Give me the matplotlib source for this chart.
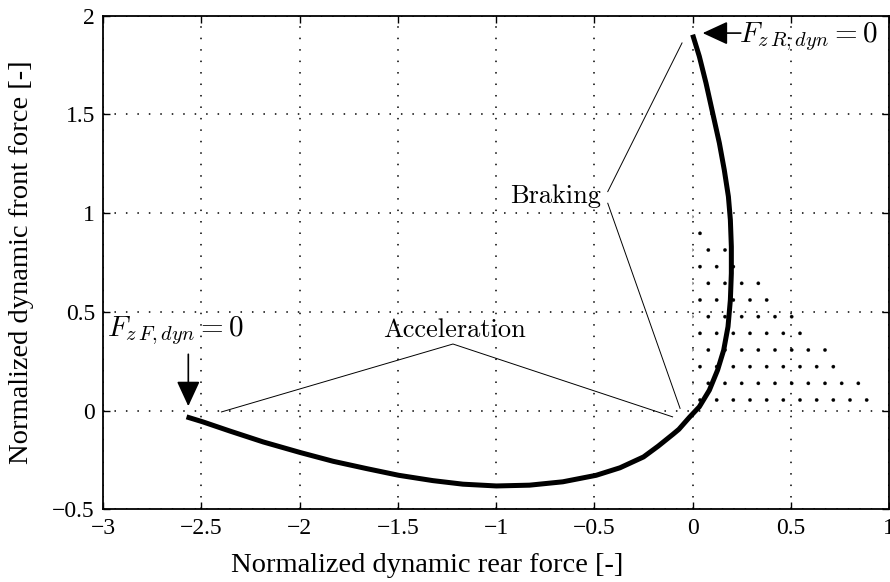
import matplotlib.pyplot as plt
import numpy as np

plt.rcParams['mathtext.fontset'] = 'cm'
plt.rcParams['hatch.linewidth'] = 0.2

# Curve (normalized rear force, normalized front force)
rear_force = [-2.576, -2.494, -2.355, -2.186, -1.996, -1.830, -1.660, -1.496,
              -1.322, -1.169, -0.999, -0.830, -0.661, -0.491, -0.37, -0.25,
              -0.175, -0.1, -0.07, -0.017, 0.034, 0.085, 0.127, 0.158, 0.180,
              0.192, 0.197, 0.197, 0.192, 0.182, 0.161, 0.136, 0.102, 0.068,
              0.034, 0.0]
front_force = [-0.032, -0.057, -0.104, -0.159, -0.213, -0.257, -0.294, -0.328,
               -0.355, -0.373, -0.382, -0.378, -0.361, -0.328, -0.29, -0.235,
               -0.18, -0.12, -0.095, -0.035, 0.019, 0.103, 0.205, 0.306, 0.425,
               0.560, 0.695, 0.830, 0.966, 1.084, 1.219, 1.355, 1.507, 1.659,
               1.794, 1.904]

# dotted triangle region
tri_x = [0, 1, 0]
tri_y = [0, 0, 1]

xticks = [-3, -2.5, -2, -1.5, -1, -0.5, 0, 0.5, 1]
yticks = [-0.5, 0, 0.5, 1, 1.5, 2]

fig = plt.figure(figsize=(8.9, 5.82), dpi=100)
ax = fig.add_axes([0.116, 0.125, 0.883, 0.848])

tick_font = 'Liberation Serif'
grid_style = (0, (1, 6.5))
arrow_style = '-|>,head_length=0.65,head_width=0.3'

ax.fill(tri_x, tri_y, facecolor='none', edgecolor='k', linewidth=0, hatch='.')
ax.plot(rear_force, front_force, color='k', linewidth=3.6, solid_capstyle='butt',
        solid_joinstyle='round', zorder=5)

# annotation leader lines
ax.plot([-0.432, -0.054], [1.109, 1.862], color='k', lw=0.7)
ax.plot([-0.432, -0.064], [1.050, 0.011], color='k', lw=0.7)
ax.plot([-2.398, -1.22, -0.102], [-0.007, 0.337, -0.032], color='k', lw=0.7)

ax.text(-0.698, 1.087, 'Braking', fontfamily='cmr10', fontsize=19, ha='center', va='center')
ax.text(-1.212, 0.405, 'Acceleration', fontfamily='cmr10', fontsize=19, ha='center', va='center')

ax.text(-2.98, 0.405, r'$F_{z\,F,dyn} = 0$', fontsize=21, ha='left', va='center')
ax.annotate('', xy=(-2.567, 0.022), xytext=(-2.567, 0.285),
            arrowprops=dict(arrowstyle=arrow_style, color='k', lw=1.2, mutation_scale=24,
                            shrinkA=0, shrinkB=0))
ax.text(0.235, 1.895, r'$F_{z\,R;dyn} = 0$', fontsize=21, ha='left', va='center')
ax.annotate('', xy=(0.051, 1.912), xytext=(0.245, 1.912),
            arrowprops=dict(arrowstyle=arrow_style, color='k', lw=1.2, mutation_scale=24,
                            shrinkA=0, shrinkB=0))

ax.set_xlim(-3, 1)
ax.set_ylim(-0.5, 2)
ax.set_xticks(xticks)
ax.set_yticks(yticks)
ax.set_xticklabels(['\u22123', '\u22122.5', '\u22122', '\u22121.5', '\u22121', '\u22120.5', '0', '0.5', '1'])
ax.set_yticklabels(['\u22120.5', '0', '0.5', '1', '1.5', '2'])
for lab in ax.get_xticklabels() + ax.get_yticklabels():
    lab.set_fontfamily(tick_font)
    lab.set_fontsize(17)
ax.tick_params(direction='in', length=5, width=1, top=True, right=True, pad=6)
ax.grid(True, color='k', linestyle=grid_style, linewidth=1.1)
for s in ax.spines.values():
    s.set_linewidth(1.3)

ax.set_xlabel('Normalized dynamic rear force [-]', fontfamily=tick_font, fontsize=20.5)
ax.set_ylabel('Normalized dynamic front force [-]', fontfamily=tick_font, fontsize=20.5)
ax.xaxis.set_label_coords(0.412, -0.088)
ax.yaxis.set_label_coords(-0.088, 0.5)

fig.savefig('out.png', dpi=100)
